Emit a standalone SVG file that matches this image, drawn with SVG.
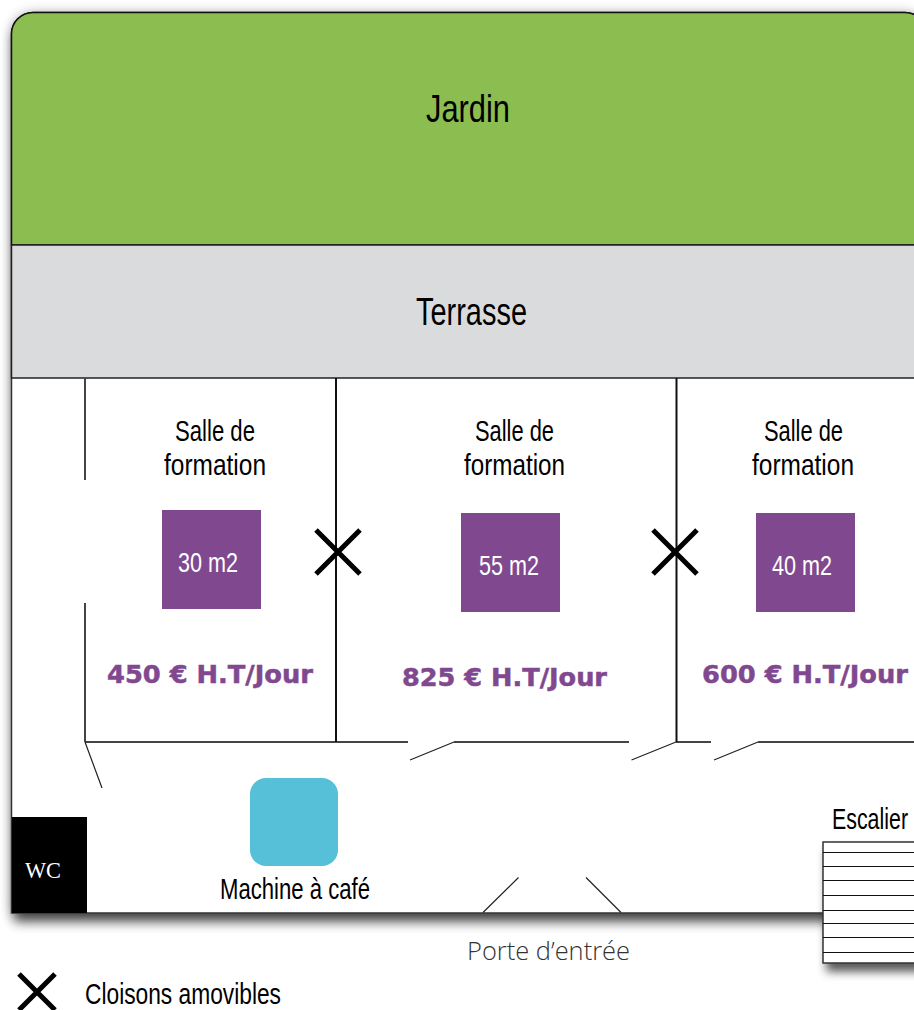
<svg xmlns="http://www.w3.org/2000/svg" width="914" height="1010" viewBox="0 0 914 1010">
<style>
.t{font-family:"Liberation Sans Narrow","Liberation Sans",Arial,sans-serif;fill:#000;text-anchor:start}
.big{font-size:39px}
.lab{font-size:30px}
.area{font-size:28px;fill:#fff}
.price{font-family:"DejaVu Sans",sans-serif;font-weight:700;font-size:25px;fill:#80488f;stroke:#80488f;stroke-width:.5}
.wall{stroke:#444;stroke-width:2;fill:none}
.door{stroke:#222;stroke-width:1.2;fill:none}
.x{stroke:#000;stroke-width:5;fill:none}
.sq{fill:#80488f}
.step{stroke:#111;stroke-width:1.2}
</style>
<defs>
<filter id="sh" x="-10%" y="-10%" width="120%" height="120%">
<feGaussianBlur in="SourceAlpha" stdDeviation="6" result="b"/>
<feOffset in="b" dx="3" dy="8" result="o"/>
<feComponentTransfer in="o" result="o2"><feFuncA type="linear" slope="0.7"/></feComponentTransfer>
<feComponentTransfer in="b" result="g"><feFuncA type="linear" slope="0.25"/></feComponentTransfer>
<feMerge><feMergeNode in="g"/><feMergeNode in="o2"/><feMergeNode in="SourceGraphic"/></feMerge>
</filter>
<filter id="sh2" x="-10%" y="-10%" width="120%" height="125%">
<feGaussianBlur in="SourceAlpha" stdDeviation="5"/>
<feOffset dx="4" dy="8"/>
<feComponentTransfer><feFuncA type="linear" slope="0.65"/></feComponentTransfer>
<feMerge><feMergeNode/><feMergeNode in="SourceGraphic"/></feMerge>
</filter>
</defs>
<rect width="914" height="1010" fill="#fff"/>
<path id="building" d="M11.500 913V34a21.500 21.500 0 0 1 21.500-21.500H905a21.500 21.500 0 0 1 21.500 21.500V913Z" fill="#fff" stroke="#333" stroke-width="1.500" filter="url(#sh)"/>
<g id="jardin">
<path d="M11.500 245V34a21.500 21.500 0 0 1 21.500-21.500H905a21.500 21.500 0 0 1 21.500 21.500V245Z" fill="#8cbd51" stroke="#111" stroke-width="1.500"/>
<text class="t big" x="426" y="122" textLength="84" lengthAdjust="spacingAndGlyphs">Jardin</text>
</g>
<g id="terrasse">
<rect x="11.500" y="245" width="923" height="133" fill="#dadbdc" stroke="#222" stroke-width="1.500"/>
<text class="t big" x="416" y="325" textLength="111" lengthAdjust="spacingAndGlyphs">Terrasse</text>
</g>
<g id="connectors">
<path class="wall" d="M85 378V480M85 603V742M85 742H408M454 742H629M676 742H711M758 742H914"/>
<path class="wall" style="stroke:#111" d="M336 378V742M676.500 378V742"/>
<path class="door" d="M85 742L102 788M410 760L454 742M631.500 760L676 742M714 760L758 742M483 912.500L518.500 877.500M586 877.500L621 912.500"/>
</g>
<g id="salle1">
<text class="t lab" x="175" y="441" textLength="80" lengthAdjust="spacingAndGlyphs">Salle de</text>
<text class="t lab" x="164" y="475" textLength="102" lengthAdjust="spacingAndGlyphs">formation</text>
<rect class="sq" x="162" y="510" width="99" height="99"/>
<text class="t area" x="178" y="572" textLength="60" lengthAdjust="spacingAndGlyphs">30 m2</text>
<text class="price" x="107" y="683" textLength="206" lengthAdjust="spacingAndGlyphs">450 € H.T/Jour</text>
</g>
<g id="salle2">
<text class="t lab" x="475" y="441" textLength="79" lengthAdjust="spacingAndGlyphs">Salle de</text>
<text class="t lab" x="464" y="475" textLength="101" lengthAdjust="spacingAndGlyphs">formation</text>
<rect class="sq" x="461" y="513" width="99" height="99"/>
<text class="t area" x="479" y="575" textLength="60" lengthAdjust="spacingAndGlyphs">55 m2</text>
<text class="price" x="402" y="686" textLength="205" lengthAdjust="spacingAndGlyphs">825 € H.T/Jour</text>
</g>
<g id="salle3">
<text class="t lab" x="764" y="441" textLength="79" lengthAdjust="spacingAndGlyphs">Salle de</text>
<text class="t lab" x="752" y="475" textLength="102" lengthAdjust="spacingAndGlyphs">formation</text>
<rect class="sq" x="756" y="513" width="99" height="99"/>
<text class="t area" x="772" y="575" textLength="60" lengthAdjust="spacingAndGlyphs">40 m2</text>
<text class="price" x="702" y="683" textLength="206" lengthAdjust="spacingAndGlyphs">600 € H.T/Jour</text>
</g>
<g id="cloison1"><path class="x" d="M316 530L360 574M360 530L316 574"/></g>
<g id="cloison2"><path class="x" d="M653 530L697 574M697 530L653 574"/></g>
<g id="wc">
<rect x="12" y="817" width="75" height="96" fill="#000"/>
<text x="25" y="878" font-family="'Liberation Serif',serif" font-size="24" fill="#fff" textLength="36" lengthAdjust="spacingAndGlyphs">WC</text>
</g>
<g id="machine">
<rect x="250" y="778" width="88" height="88" rx="16" fill="#57c0d9"/>
<text class="t lab" x="220" y="899" textLength="150" lengthAdjust="spacingAndGlyphs">Machine à café</text>
</g>
<g id="escalier">
<text class="t lab" x="832" y="829" textLength="76" lengthAdjust="spacingAndGlyphs">Escalier</text>
<rect x="823" y="842" width="120" height="121" fill="#fff" stroke="#333" stroke-width="1.500" filter="url(#sh2)"/>
<path class="step" d="M823 852.500H914M823 866.500H914M823 880.500H914M823 895.500H914M823 910.500H914M823 923.500H914M823 937.500H914M823 952.500H914"/>
</g>
<g id="porte">
<text x="467" y="960" font-family="'Open Sans',sans-serif" font-weight="300" font-size="26" fill="#333" textLength="163" lengthAdjust="spacingAndGlyphs">Porte d’entrée</text>
</g>
<g id="legende">
<path class="x" d="M19 974L55 1010M55 974L19 1010"/>
<text class="t lab" x="85" y="1004" textLength="196" lengthAdjust="spacingAndGlyphs">Cloisons amovibles</text>
</g>
</svg>
